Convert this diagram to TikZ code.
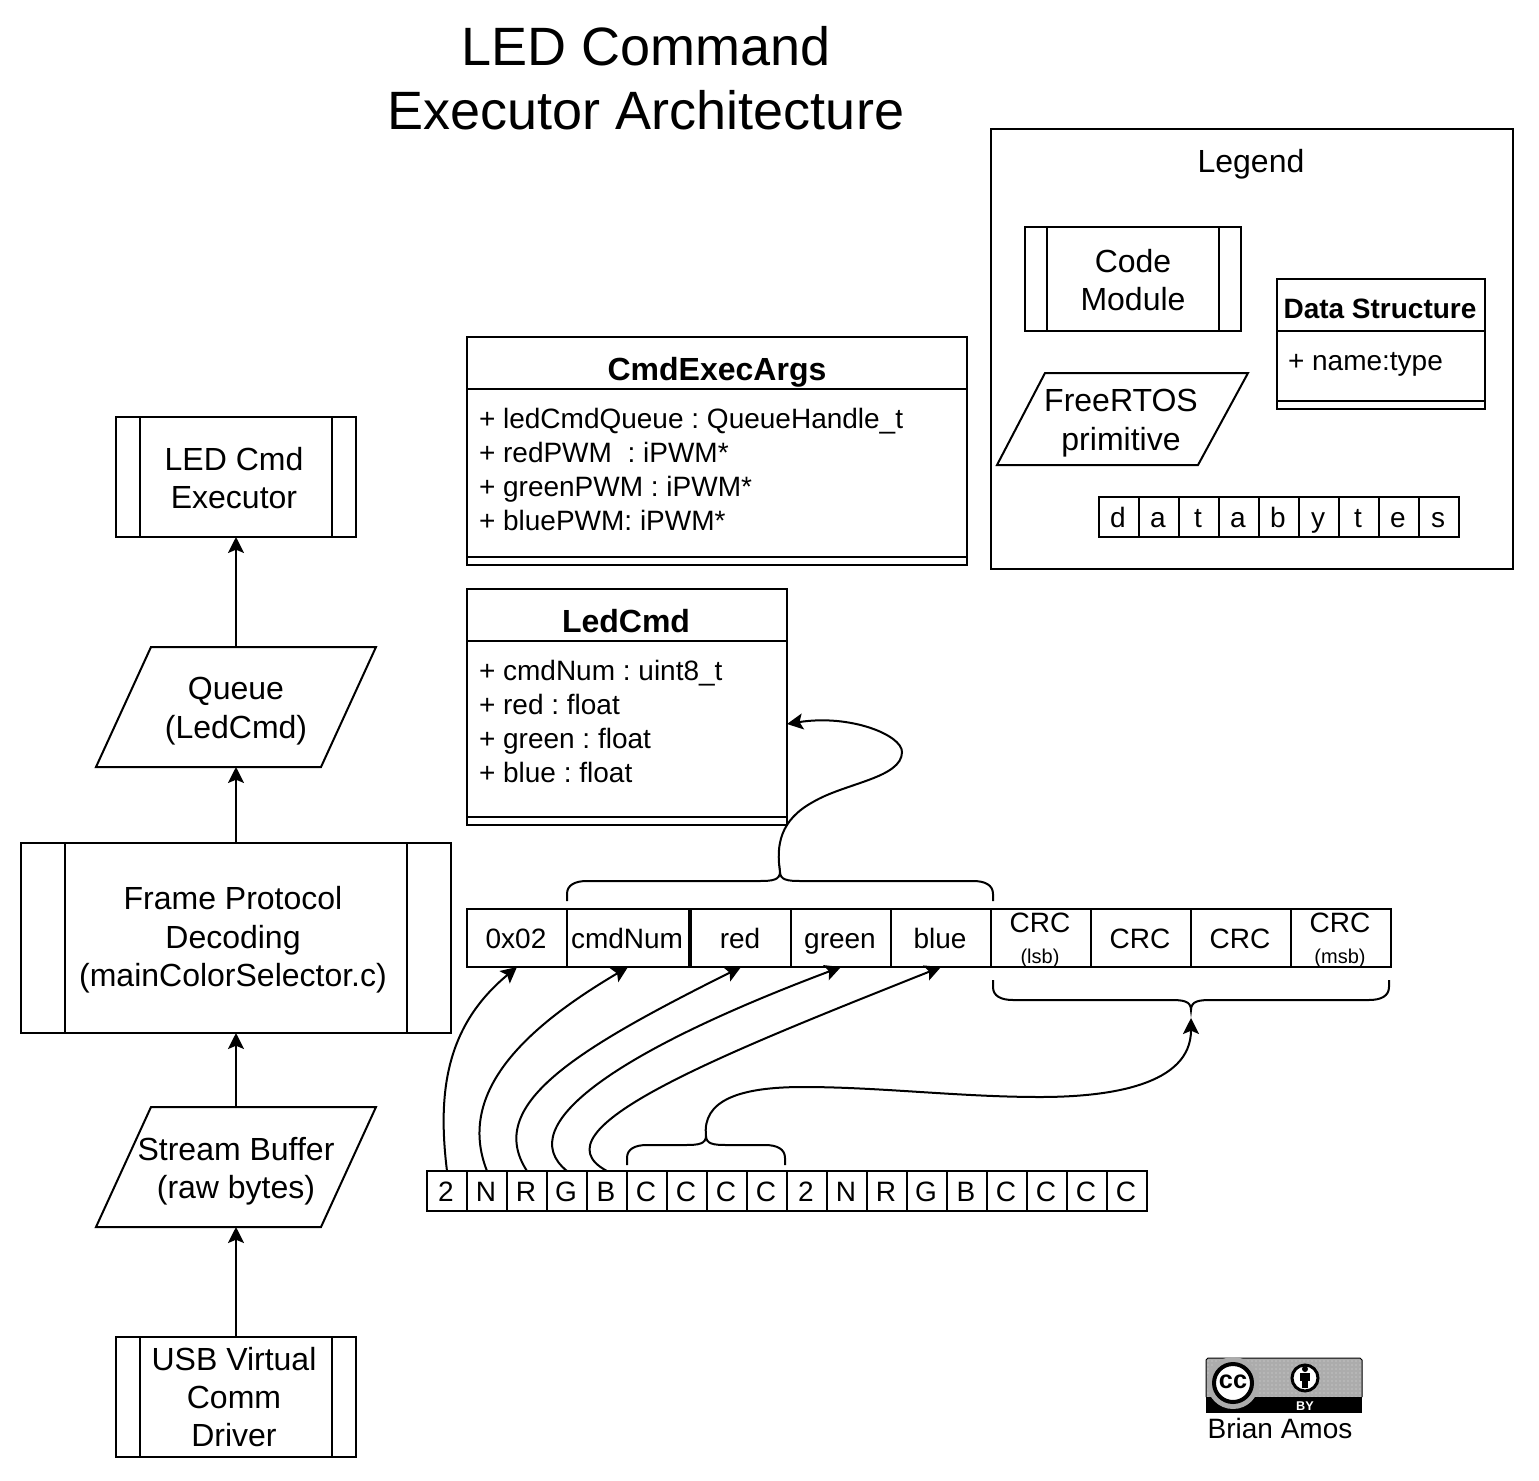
\documentclass[tikz,border=0pt]{standalone}
\usepackage{fontspec}
\setmainfont{Liberation Sans}
\frenchspacing
\usetikzlibrary{arrows.meta,patterns}
\definecolor{ccgray}{RGB}{172,172,172}
\tikzset{
  ln/.style={line width=1.5pt,draw=black},
  conn/.style={line width=1.5pt,draw=black,-{Stealth[length=12pt,width=12pt,inset=2.5pt]}},
  bracepath/.style={line width=1.5pt,draw=black},
  inner/.style={inner sep=0pt,outer sep=0pt,align=center},
  big/.style={font=\fontsize{24}{28.8}\selectfont},
  mid/.style={font=\fontsize{21}{25.2}\selectfont},
  small/.style={font=\fontsize{15}{18}\selectfont},
  titlefont/.style={font=\fontsize{40.5}{48}\selectfont},
  rowtxt/.style={mid,anchor=base west,inner sep=0pt,outer sep=0pt},
  cell/.style={mid,text height=18pt,text depth=3pt},
}
\newcommand\lft{\kern-1.5pt}
% name, x1, y1, x2, y2, text, style
\newcommand\rbox[7][]{\node[inner,draw=black,line width=1.5pt,#1,minimum width={(#4-#2)*0.75pt},minimum height={(#5-#3)*0.75pt}] (#6) at ({(#2+#4)/2},{(#3+#5)/2}) {#7};}
\newcommand\ghost[7][]{\node[inner,#1,minimum width={(#4-#2)*0.75pt},minimum height={(#5-#3)*0.75pt}] (#6) at ({(#2+#4)/2},{(#3+#5)/2}) {#7};}
\begin{document}
\begin{tikzpicture}[x=0.75pt,y=-0.75pt]
\useasboundingbox (0,0) rectangle (1539,1481);

% title
\node[inner,titlefont] (title) at (646,78) {LED Command\\Executor Architecture};

% left column
\rbox{116}{417}{356}{537}{exec}{}
\node[inner,big] (exect) at (234,478) {LED Cmd\\Executor};
\draw[ln] (140,417)--(140,537) (332,417)--(332,537);
\draw[ln] (96,767)--(151,647)--(376,647)--(321,767)--cycle;
\ghost{96}{647}{376}{767}{queue}{}
\node[inner,big] (queuet) at (236,711) {Queue\\(LedCmd)};
\rbox{21}{843}{451}{1033}{frame}{}
\node[inner,big] (framet) at (233,940) {Frame Protocol\\Decoding\\(mainColorSelector.c)};
\draw[ln] (65,843)--(65,1033) (407,843)--(407,1033);
\draw[ln] (96,1227)--(151,1107)--(376,1107)--(321,1227)--cycle;
\ghost{96}{1107}{376}{1227}{stream}{}
\node[inner,big] (streamt) at (236,1171) {Stream Buffer\\(raw bytes)};
\rbox{116}{1337}{356}{1457}{usb}{}
\node[inner,big] (usbt) at (234,1397) {USB Virtual\\Comm\\Driver};
\draw[ln] (140,1337)--(140,1457) (332,1337)--(332,1457);
\draw[conn] (queue.north)--(exec.south);
\draw[conn] (frame.north)--(queue.south);
\draw[conn] (stream.north)--(frame.south);
\draw[conn] (usb.north)--(stream.south);

% CmdExecArgs
\rbox{467}{337}{967}{565}{args}{}
\draw[ln] (467,389)--(967,389) (467,557)--(967,557);
\node[inner,big,anchor=base] (argst) at (717,380) {\textbf{CmdExecArgs}};
\node[rowtxt] (a1) at (479,428) {+ ledCmdQueue : QueueHandle\_t};
\node[rowtxt] (a2) at (479,462) {+ redPWM\ \ : iPWM*};
\node[rowtxt] (a3) at (479,496) {+ greenPWM : iPWM*};
\node[rowtxt] (a4) at (479,530) {+ bluePWM: iPWM*};

% LedCmd
\rbox{467}{589}{787}{825}{led}{}
\draw[ln] (467,641)--(787,641) (467,817)--(787,817);
\node[inner,big,anchor=base] (ledt) at (626,632) {\textbf{LedCmd}};
\node[rowtxt] (l1) at (479,680) {+ cmdNum : uint8\_t};
\node[rowtxt] (l2) at (479,714) {+ red : float};
\node[rowtxt] (l3) at (479,748) {+ green : float};
\node[rowtxt] (l4) at (479,782) {+ blue : float};

% Frame fields
\rbox[cell]{467}{909}{567}{967}{f1}{\lft 0x02}
\rbox[cell]{567}{909}{689}{967}{f2}{\lft cmdNum}
\rbox[cell]{691}{909}{791}{967}{f3}{\lft red}
\rbox[cell]{791}{909}{891}{967}{f4}{\lft green}
\rbox[cell]{891}{909}{991}{967}{f5}{\lft blue}
\rbox{991}{909}{1091}{967}{f6}{}
\rbox[cell]{1091}{909}{1191}{967}{f7}{\lft CRC}
\rbox[cell]{1191}{909}{1291}{967}{f8}{\lft CRC}
\rbox{1291}{909}{1391}{967}{f9}{}
\node[inner,mid] (c1) at (1040,923) {CRC};
\node[inner,small] (c1s) at (1040,958) {(lsb)};
\node[inner,mid] (c4) at (1340,923) {CRC};
\node[inner,small] (c4s) at (1340,958) {(msb)};

% Byte stream
\foreach \i/\t in {1/2,2/N,3/R,4/G,5/B,6/C,7/C,8/C,9/C,10/2,11/N,12/R,13/G,14/B,15/C,16/C,17/C,18/C}{
  \pgfmathtruncatemacro\xa{427+(\i-1)*40}
  \pgfmathtruncatemacro\xb{427+\i*40}
  \rbox[cell]{\xa}{1171}{\xb}{1211}{b\i}{\lft\t}
}

% Braces
\coordinate (topapex) at (780,872);
\coordinate (crcapex) at (1191,1018);
\coordinate (lowapex) at (706,1136);
\coordinate (ledin) at (787,724);
\draw[bracepath] (567,901) -- (567,894) .. controls (567,885) and (575,881) .. (587,881)
  -- (760,881) .. controls (772,881) and (780,880) .. (topapex)
  .. controls (780,880) and (788,881) .. (800,881) -- (973,881)
  .. controls (985,881) and (993,885) .. (993,894) -- (993,901);
\draw[bracepath] (993,980) -- (993,987) .. controls (993,996) and (1001,1000) .. (1013,1000)
  -- (1171,1000) .. controls (1183,1000) and (1191,1001) .. (1191,1010)
  .. controls (1191,1001) and (1199,1000) .. (1211,1000) -- (1369,1000)
  .. controls (1381,1000) and (1389,996) .. (1389,987) -- (1389,980);
\draw[bracepath] (627,1165) -- (627,1158) .. controls (627,1149) and (635,1145) .. (647,1145)
  -- (686,1145) .. controls (698,1145) and (706,1144) .. (lowapex)
  .. controls (706,1144) and (714,1145) .. (726,1145) -- (765,1145)
  .. controls (777,1145) and (785,1149) .. (785,1158) -- (785,1165);

% Connectors
\draw[conn] (b1.north) .. controls (437,1090) and (447,1025) .. (f1.south);
\draw[conn] (b2.north) .. controls (455,1090) and (530,1025) .. (f2.south);
\draw[conn] (b3.north) .. controls (484,1105) and (575,1050) .. (f3.south);
\draw[conn] (b4.north) .. controls (510,1125) and (620,1050) .. (f4.south);
\draw[conn] (b5.north) .. controls (530,1130) and (720,1055) .. (f5.south);
\draw[conn] (topapex) .. controls (776,845) and (780,820) .. (813,802)
  .. controls (845,783) and (902,778) .. (902,752)
  .. controls (902,735) and (850,714) .. (ledin);
\draw[conn] (lowapex) .. controls (702,1100) and (740,1087) .. (803,1087)
  .. controls (880,1087) and (960,1097) .. (1040,1097)
  .. controls (1110,1097) and (1191,1085) .. (crcapex);

% Legend
\rbox{991}{129}{1513}{569}{legend}{}
\node[inner,big] (legt) at (1251,164) {Legend};
\rbox{1025}{227}{1241}{331}{code}{}
\node[inner,big] (codet) at (1133,280) {Code\\Module};
\draw[ln] (1047,227)--(1047,331) (1219,227)--(1219,331);
\rbox{1277}{279}{1485}{409}{ds}{}
\draw[ln] (1277,331)--(1485,331) (1277,401)--(1485,401);
\node[inner,mid,anchor=base] (dst) at (1380,318) {\textbf{Data Structure}};
\node[rowtxt] (dsr) at (1288,370) {+ name:type};
\draw[ln] (997,465)--(1045,373)--(1248,373)--(1198,465)--cycle;
\ghost{997}{373}{1248}{465}{rtos}{}
\node[inner,big] (rtost) at (1121,423) {FreeRTOS\\primitive};
\foreach \i/\t in {1/d,2/a,3/t,4/a,5/b,6/y,7/t,8/e,9/s}{
  \pgfmathtruncatemacro\xa{1099+(\i-1)*40}
  \pgfmathtruncatemacro\xb{1099+\i*40}
  \rbox[cell]{\xa}{497}{\xb}{537}{d\i}{\lft\t}
}

% CC badge
\fill[ccgray] (1206,1397) -- (1206,1360) -- (1208,1358) -- (1360,1358) -- (1362,1360) -- (1362,1397) -- cycle;
\fill[pattern=dots,pattern color=ccgray!45!white] (1207,1359) rectangle (1361,1397);
\draw[black,line width=0.75pt] (1206,1397) -- (1206,1360) -- (1208,1358) -- (1360,1358) -- (1362,1360) -- (1362,1397);
\fill[black] (1206,1397) rectangle (1362,1413);
\fill[ccgray] (1233,1383) circle[radius=26];
\fill[white,draw=black,line width=3pt] (1233,1383) circle[radius=19];
\node[inner,font=\fontsize{19}{19}\selectfont\bfseries] (cc) at (1233,1382) {cc};
\fill[white,draw=black,line width=2.25pt] (1305,1378) circle[radius=13];
\fill[black] (1305,1369) circle[radius=3];
\fill[black] (1300,1373) rectangle (1310,1381);
\fill[black] (1302,1381) rectangle (1308,1388);
\node[inner,font=\fontsize{9.5}{9.5}\selectfont\bfseries,text=white] (by) at (1305,1406) {BY};
\node[inner,mid] (brian) at (1280,1428) {Brian Amos};
\end{tikzpicture}
\end{document}
